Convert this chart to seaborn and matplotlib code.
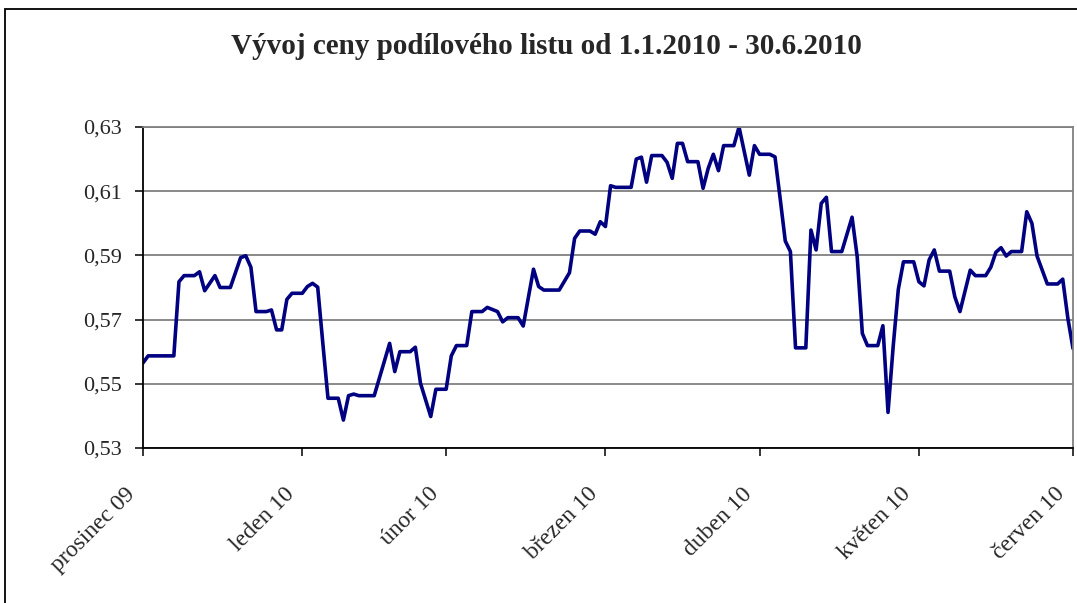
import pandas as pd
import seaborn as sns
import matplotlib.pyplot as plt
from matplotlib.patches import Rectangle
from matplotlib.transforms import ScaledTranslation

sns.set_style('white')
plt.rcParams['font.family'] = ['Liberation Serif', 'DejaVu Serif']

# trading data (date, price)
dates = [
    '2010-01-01', '2010-01-02', '2010-01-07', '2010-01-08', '2010-01-09', '2010-01-11',
    '2010-01-12', '2010-01-13', '2010-01-15', '2010-01-16', '2010-01-18', '2010-01-20',
    '2010-01-21', '2010-01-22', '2010-01-23', '2010-01-25', '2010-01-26', '2010-01-27',
    '2010-01-28', '2010-01-29', '2010-01-30', '2010-02-01', '2010-02-02', '2010-02-03',
    '2010-02-04', '2010-02-05', '2010-02-06', '2010-02-08', '2010-02-09', '2010-02-10',
    '2010-02-11', '2010-02-12', '2010-02-15', '2010-02-18', '2010-02-19', '2010-02-20',
    '2010-02-22', '2010-02-23', '2010-02-24', '2010-02-26', '2010-02-27', '2010-03-01',
    '2010-03-02', '2010-03-03', '2010-03-05', '2010-03-06', '2010-03-08', '2010-03-09',
    '2010-03-11', '2010-03-12', '2010-03-13', '2010-03-15', '2010-03-16', '2010-03-18',
    '2010-03-19', '2010-03-20', '2010-03-23', '2010-03-25', '2010-03-26', '2010-03-27',
    '2010-03-29', '2010-03-30', '2010-03-31', '2010-04-01', '2010-04-02', '2010-04-03',
    '2010-04-06', '2010-04-07', '2010-04-08', '2010-04-09', '2010-04-10', '2010-04-12',
    '2010-04-13', '2010-04-14', '2010-04-15', '2010-04-16', '2010-04-17', '2010-04-19',
    '2010-04-20', '2010-04-21', '2010-04-22', '2010-04-23', '2010-04-24', '2010-04-26',
    '2010-04-27', '2010-04-29', '2010-04-30', '2010-05-01', '2010-05-03', '2010-05-04',
    '2010-05-05', '2010-05-06', '2010-05-07', '2010-05-08', '2010-05-10', '2010-05-11',
    '2010-05-12', '2010-05-13', '2010-05-14', '2010-05-15', '2010-05-17', '2010-05-19',
    '2010-05-20', '2010-05-21', '2010-05-22', '2010-05-24', '2010-05-25', '2010-05-26',
    '2010-05-27', '2010-05-28', '2010-05-29', '2010-05-31', '2010-06-01', '2010-06-02',
    '2010-06-03', '2010-06-04', '2010-06-05', '2010-06-07', '2010-06-08', '2010-06-09',
    '2010-06-11', '2010-06-12', '2010-06-14', '2010-06-15', '2010-06-16', '2010-06-17',
    '2010-06-18', '2010-06-19', '2010-06-21', '2010-06-22', '2010-06-23', '2010-06-24',
    '2010-06-26', '2010-06-28', '2010-06-29', '2010-06-30', '2010-07-01',
]
prices = [
    0.5565, 0.5587, 0.5587, 0.5818, 0.5837, 0.5837,
    0.5849, 0.5790, 0.5837, 0.5800, 0.5800, 0.5893,
    0.5899, 0.5863, 0.5725, 0.5725, 0.5730, 0.5668,
    0.5668, 0.5763, 0.5782, 0.5782, 0.5803, 0.5813,
    0.5801, 0.5626, 0.5455, 0.5455, 0.5387, 0.5463,
    0.5468, 0.5463, 0.5463, 0.5626, 0.5538, 0.5600,
    0.5600, 0.5614, 0.5502, 0.5398, 0.5483, 0.5483,
    0.5587, 0.5619, 0.5619, 0.5725, 0.5725, 0.5738,
    0.5725, 0.5693, 0.5706, 0.5706, 0.5680, 0.5857,
    0.5803, 0.5792, 0.5792, 0.5846, 0.5953, 0.5976,
    0.5976, 0.5966, 0.6005, 0.5990, 0.6117, 0.6112,
    0.6112, 0.6200, 0.6206, 0.6128, 0.6211, 0.6211,
    0.6190, 0.6140, 0.6249, 0.6249, 0.6192, 0.6192,
    0.6109, 0.6171, 0.6215, 0.6164, 0.6242, 0.6242,
    0.6300, 0.6150, 0.6242, 0.6215, 0.6215, 0.6207,
    0.6078, 0.5945, 0.5912, 0.5612, 0.5612, 0.5979,
    0.5917, 0.6062, 0.6081, 0.5912, 0.5912, 0.6019,
    0.5896, 0.5657, 0.5619, 0.5619, 0.5681, 0.5411,
    0.5616, 0.5794, 0.5880, 0.5880, 0.5818, 0.5805,
    0.5886, 0.5917, 0.5851, 0.5851, 0.5771, 0.5725,
    0.5854, 0.5837, 0.5837, 0.5863, 0.5910, 0.5924,
    0.5898, 0.5912, 0.5912, 0.6036, 0.6000, 0.5898,
    0.5811, 0.5811, 0.5826, 0.5704, 0.5610,
]
month_ticks = ['2010-01-01', '2010-02-01', '2010-03-01', '2010-04-01',
               '2010-05-01', '2010-06-01', '2010-07-01']
month_labels = ['prosinec 09', 'leden 10', 'únor 10', 'březen 10',
                'duben 10', 'květen 10', 'červen 10']
y_ticks = [0.53, 0.55, 0.57, 0.59, 0.61, 0.63]

df = pd.DataFrame({'datum': pd.to_datetime(dates), 'cena': prices})

fig = plt.figure(figsize=(10.77, 6.03), dpi=100)
ax = fig.add_axes([143 / 1077, 155 / 603, 930 / 1077, 321 / 603])

sns.lineplot(data=df, x='datum', y='cena', ax=ax, color='#000080', linewidth=2.6)

ax.set_xlim(pd.Timestamp(month_ticks[0]), pd.Timestamp(month_ticks[-1]))
ax.set_ylim(0.53, 0.63)
ax.set_xticks(pd.to_datetime(month_ticks))
ax.set_xticklabels(month_labels, rotation=45, ha='right', va='center',
                   rotation_mode='anchor', fontsize=17)
ax.set_yticks(y_ticks)
ax.set_yticklabels([f'{v:.2f}'.replace('.', ',') for v in y_ticks], fontsize=16)
ax.set_xlabel('')
ax.set_ylabel('')

ax.grid(axis='y', color='#808080', linewidth=1.3)
ax.grid(axis='x', visible=False)
ax.set_axisbelow(True)
ax.tick_params(axis='both', direction='out', length=6, width=1.1, color='black',
               bottom=True, left=True)
ax.tick_params(axis='y', pad=9)
ax.tick_params(axis='x', pad=25)
for side in ['left', 'bottom']:
    ax.spines[side].set_color('black')
    ax.spines[side].set_linewidth(1.3)
for side in ['top', 'right']:
    ax.spines[side].set_color('#808080')
    ax.spines[side].set_linewidth(1.3)

# shift the slanted labels a little left of their ticks, like the original
# (after tick_params, which would reset the label transforms)
shift = ScaledTranslation(-11 / 100, 0, fig.dpi_scale_trans)
for lab in ax.get_xticklabels():
    lab.set_transform(lab.get_transform() + shift)

fig.text(546 / 1077, 1 - 47 / 603,
         'Vývoj ceny podílového listu od 1.1.2010 - 30.6.2010',
         ha='center', va='center', fontsize=21, fontweight='bold')

# chart area frame
fig.patches.append(Rectangle((5 / 1077, -0.05), 1.1, 1 - 9 / 603 + 0.05,
                             transform=fig.transFigure, fill=False,
                             edgecolor='black', linewidth=1.3))

fig.savefig('out.png', dpi=100)
